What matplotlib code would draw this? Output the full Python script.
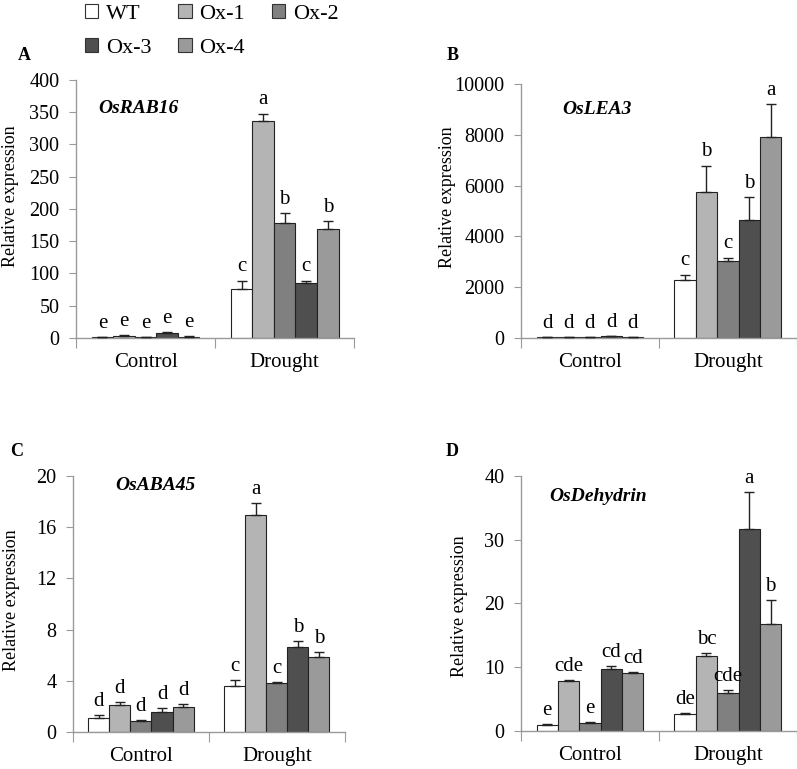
import numpy as np
import matplotlib
matplotlib.use('Agg')
import matplotlib.pyplot as plt
from matplotlib.patches import Patch

plt.rcParams['font.family'] = ['Liberation Serif', 'DejaVu Serif']

conditions = ['Control', 'Drought']
lines = ['WT', 'Ox-1', 'Ox-2', 'Ox-3', 'Ox-4']
colors = ['#ffffff', '#b4b4b4', '#808080', '#4f4f4f', '#9a9a9a']

# values per line: [control, drought]
rab16_mean = [[1, 76], [3, 336], [1, 179], [7, 86], [2, 169]]
rab16_err = [[0.5, 13], [2, 12], [0.3, 15], [1.5, 3], [0.5, 12]]
rab16_sig = [['e', 'c'], ['e', 'a'], ['e', 'b'], ['e', 'c'], ['e', 'b']]

lea3_mean = [[20, 2300], [30, 5755], [20, 3050], [60, 4640], [20, 7937]]
lea3_err = [[5, 200], [10, 1040], [5, 120], [20, 920], [5, 1275]]
lea3_sig = [['d', 'c'], ['d', 'b'], ['d', 'c'], ['d', 'b'], ['d', 'a']]

aba45_mean = [[1.09, 3.61], [2.08, 16.94], [0.88, 3.82], [1.56, 6.62], [1.92, 5.84]]
aba45_err = [[0.23, 0.47], [0.26, 0.93], [0.08, 0.10], [0.31, 0.50], [0.26, 0.39]]
aba45_sig = [['d', 'c'], ['d', 'a'], ['d', 'c'], ['d', 'b'], ['d', 'b']]

dhn_mean = [[1.0, 2.67], [7.85, 11.83], [1.26, 6.02], [9.69, 31.68], [9.11, 16.8]]
dhn_err = [[0.05, 0.2], [0.15, 0.32], [0.1, 0.37], [0.47, 5.75], [0.16, 3.67]]
dhn_sig = [['e', 'de'], ['cde', 'bc'], ['e', 'cde'], ['cd', 'a'], ['cd', 'b']]

panels = [
    ('A', 'OsRAB16', rab16_mean, rab16_err, rab16_sig, 400, 50,
     [0.0954, 0.5605, 0.349, 0.3355], (-0.205, 0.55), (0.079, 0.888), (18, 55)),
    ('B', 'OsLEA3', lea3_mean, lea3_err, lea3_sig, 10000, 2000,
     [0.6537, 0.5605, 0.346, 0.330], (-0.235, 0.555), (0.149, 0.90), (447, 55)),
    ('C', 'OsABA45', aba45_mean, aba45_err, aba45_sig, 20, 4,
     [0.0916, 0.0481, 0.341, 0.333], (-0.195, 0.516), (0.154, 0.961), (10, 452)),
    ('D', 'OsDehydrin', dhn_mean, dhn_err, dhn_sig, 40, 10,
     [0.6537, 0.0494, 0.346, 0.332], (-0.192, 0.49), (0.101, 0.918), (446, 452)),
]

W, H = 797, 769
fig = plt.figure(figsize=(W / 100, H / 100), dpi=100)
spine_col = '#9a9a9a'
bw = 0.155
xc = np.array([0.5, 1.5])

for letter, gene, mean, err, sig, ymax, ystep, rect, lab_xy, gene_xy, let_px in panels:
    ax = fig.add_axes(rect)
    for i in range(len(lines)):
        xs = xc + (i - 2) * bw
        m = np.array(mean[i], dtype=float)
        e = np.array(err[i], dtype=float)
        ax.bar(xs, m, bw, color=colors[i], edgecolor='#222222', linewidth=0.8, zorder=2)
        ax.errorbar(xs, m, yerr=[np.zeros_like(e), e], fmt='none', ecolor='#222222',
                    elinewidth=1, capsize=3.5, capthick=1, zorder=3)
        for j in range(2):
            ax.annotate(sig[i][j], (xs[j], m[j] + e[j]), xytext=(0, 3),
                        textcoords='offset points', ha='center', va='bottom', fontsize=15)
    ax.set_xlim(0, 2)
    ax.set_ylim(0, ymax)
    ax.set_yticks(np.arange(0, ymax + ystep / 2, ystep))
    ax.set_xticks([0, 1, 2])
    ax.set_xticklabels([])
    ax.set_xticks(xc, minor=True)
    ax.set_xticklabels(conditions, minor=True)
    ax.tick_params(axis='x', which='major', direction='out', length=7, color=spine_col)
    ax.tick_params(axis='x', which='minor', length=0, pad=11, labelsize=15)
    ax.tick_params(axis='y', direction='out', length=5, color=spine_col, labelsize=14.5, pad=7)
    for s in ['top', 'right']:
        ax.spines[s].set_visible(False)
    for s in ['left', 'bottom']:
        ax.spines[s].set_color(spine_col)
        ax.spines[s].set_linewidth(1)
    ax.set_ylabel('Relative expression', fontsize=13)
    ax.yaxis.set_label_coords(*lab_xy)
    ax.text(gene_xy[0], gene_xy[1], gene, transform=ax.transAxes, fontsize=14,
            fontweight='bold', fontstyle='italic', ha='left', va='center')
    fig.text(let_px[0] / W, 1 - let_px[1] / H, letter, fontsize=13, fontweight='bold',
             ha='left', va='center')

handles = [Patch(facecolor=c, edgecolor='#333333', linewidth=0.8) for c in colors]
order = [0, 3, 1, 4, 2]
fig.legend([handles[k] for k in order], [lines[k] for k in order], ncol=3,
           loc='upper left', bbox_to_anchor=(76 / W, 1.006), frameon=False,
           fontsize=16, handlelength=0.6, handleheight=0.6, handletextpad=0.35,
           columnspacing=1.2, labelspacing=0.62, borderaxespad=0)

plt.savefig('out.png', dpi=100)
